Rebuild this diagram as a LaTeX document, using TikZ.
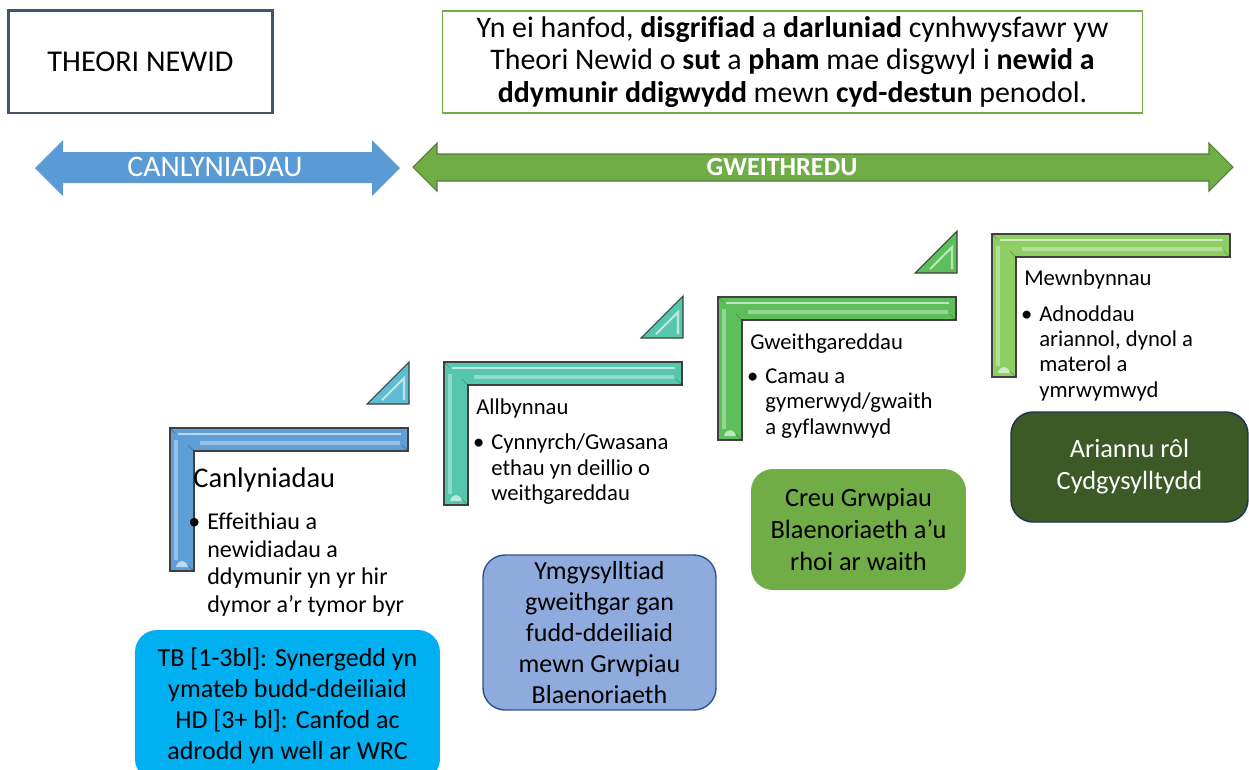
\documentclass[tikz,border=0pt]{standalone}
\usepackage{fontspec}
\setmainfont{Carlito}[Ligatures=NoCommon]
\usepackage{tikz}

\definecolor{slate}{HTML}{44546A}
\definecolor{leaf}{HTML}{70AD47}
\definecolor{leafdark}{HTML}{507E32}
\definecolor{sky}{HTML}{5B9BD5}
\definecolor{cyanbox}{HTML}{00B0F0}
\definecolor{lavender}{HTML}{8FAADC}
\definecolor{navy}{HTML}{2F528F}
\definecolor{forest}{HTML}{3B5A25}
\definecolor{frblue}{HTML}{5E9FD8}
\definecolor{frteal}{HTML}{55C8AC}
\definecolor{frgreen}{HTML}{5CBF5C}
\definecolor{frlime}{HTML}{8ECF63}
\definecolor{triaqua}{HTML}{5CBCD2}

\begin{document}
\begin{tikzpicture}[x=0.02cm,y=-0.02cm]
\tikzset{tbox/.style = {draw, rectangle, align=center, inner sep=0pt}}
\tikzset{rbox/.style = {rectangle, rounded corners=0.44cm, align=center, inner sep=0pt, font=\fontsize{14.8}{17.6}\selectfont}}
\tikzset{ftitle/.style = {anchor=base west, inner sep=0pt, font=\fontsize{12.9}{14.5}\selectfont}}
\tikzset{flist/.style = {anchor=north west, inner sep=0pt, align=left, font=\fontsize{12.9}{14.46}\selectfont}}
\clip (0,0) rectangle (1249,769);
\fill[white] (0,0) rectangle (1249,769);
% heading boxes
\node[tbox, draw=slate, line width=1.7pt, minimum width=5.3cm, minimum height=2.06cm,
  font=\fontsize{17.2}{20}\selectfont] (theori) at (140.5,61.5) {THEORI NEWID};
\node[tbox, draw=leaf, line width=0.6pt, minimum width=14.02cm, minimum height=2.04cm,
  font=\fontsize{17}{18.7}\selectfont] (diffin) at (792.5,62)
  {Yn ei hanfod, \textbf{disgrifiad} a \textbf{darluniad} cynhwysfawr yw\\
   Theori Newid o \textbf{sut} a \textbf{pham} mae disgwyl i \textbf{newid a}\\
   \textbf{ddymunir ddigwydd} mewn \textbf{cyd-destun} penodol.};
% double arrows
\fill[sky] (35,168) -- (63,140) -- (63,152) -- (372,152) -- (372,140) -- (400,168)
  -- (372,196) -- (372,183) -- (63,183) -- (63,196) -- cycle;
\filldraw[fill=leaf, draw=leafdark, line width=0.6pt] (413,167) -- (437,143) -- (437,154)
  -- (1209,154) -- (1209,143) -- (1233,167) -- (1209,191) -- (1209,181) -- (437,181)
  -- (437,191) -- cycle;
\node[text=white, font=\fontsize{17}{20}\selectfont] (canl-arrow) at (215,167) {CANLYNIADAU};
\node[text=white, font=\bfseries\fontsize{14.9}{17}\selectfont] (gweith-arrow) at (782,167) {GWEITHREDU};
% frames
\foreach \fx/\fy/\fc in {170/428/frblue, 444/362/frteal, 718/297/frgreen, 992/234/frlime}{
  \filldraw[fill=\fc, draw=black!75, line width=0.6pt] (\fx,\fy) -- ++(238,0) -- ++(0,23)
    -- ({\fx+24},{\fy+23}) -- ({\fx+24},{\fy+143}) -- (\fx,{\fy+143}) -- cycle;
  \draw[white, opacity=0.6, line width=1.2pt] ({\fx+8},{\fy+6}) -- ({\fx+231},{\fy+6});
  \draw[white, opacity=0.35, line width=2.5pt] ({\fx+30},{\fy+15}) -- ({\fx+230},{\fy+15});
  \draw[white, opacity=0.35, line width=2pt] ({\fx+6},{\fy+12}) -- ({\fx+6},{\fy+132});
  \draw[black, opacity=0.25] (\fx,\fy) -- ({\fx+5},{\fy+5}) ({\fx+238},{\fy+23}) -- ({\fx+232},{\fy+17})
    ({\fx+24},{\fy+23}) -- ({\fx+18},{\fy+17}) ({\fx+24},{\fy+143}) -- ({\fx+18},{\fy+137});
  \fill[white, opacity=0.6] ({\fx+6},{\fy+139}) .. controls ({\fx+8},{\fy+131}) and ({\fx+16},{\fy+131}) .. ({\fx+18},{\fy+139}) -- cycle;
}
\foreach \tx/\ty/\tc in {170/428/triaqua, 444/362/frteal, 718/297/frgreen}{
  \filldraw[fill=\tc, draw=black!75, line width=0.6pt] ({\tx+197},{\ty-24}) -- ({\tx+239},{\ty-66})
    -- ({\tx+239},{\ty-24}) -- cycle;
  \draw[white, opacity=0.6, line width=1.2pt] ({\tx+212},{\ty-28}) -- ({\tx+234},{\ty-50}) -- ({\tx+234},{\ty-28});
}
% frame texts
\node[ftitle, font=\fontsize{16.2}{19}\selectfont] (canl-title) at (193,487) {Canlyniadau};
\node[flist, font=\fontsize{13.7}{15.9}\selectfont] (canl-list) at (207,512)
  {\llap{•\hspace{4pt}}Effeithiau a\\ newidiadau a\\ ddymunir yn yr hir\\ dymor a’r tymor byr};
\node[ftitle] (allb-title) at (476,414) {Allbynnau};
\node[flist] (allb-list) at (491,433.5)
  {\llap{•\hspace{4pt}}Cynnyrch/Gwasana\\ ethau yn deillio o\\ weithgareddau};
\node[ftitle] (gweith-title) at (750,349) {Gweithgareddau};
\node[flist] (gweith-list) at (765,368.5)
  {\llap{•\hspace{4pt}}Camau a\\ gymerwyd/gwaith\\ a gyflawnwyd};
\node[ftitle] (mewn-title) at (1024,285) {Mewnbynnau};
\node[flist] (mewn-list) at (1039,305)
  {\llap{•\hspace{4pt}}Adnoddau\\ ariannol, dynol a\\ materol a\\ ymrwymwyd};
% rounded boxes
\node[rbox, fill=cyanbox, minimum width=6.1cm, minimum height=3.02cm] (tymor) at (287.5,705.5)
  {TB [1-3bl]: Synergedd yn\\ ymateb budd-ddeiliaid\\ HD [3+ bl]: Canfod ac\\ adrodd yn well ar WRC};
\node[rbox, fill=lavender, draw=navy, line width=0.8pt, minimum width=4.66cm, minimum height=3.1cm] (ymgys) at (599.5,632.5)
  {Ymgysylltiad\\ gweithgar gan\\ fudd-ddeiliaid\\ mewn Grwpiau\\ Blaenoriaeth};
\node[rbox, fill=leaf, minimum width=4.3cm, minimum height=2.42cm, font=\fontsize{15}{18.1}\selectfont] (creu) at (858.5,529.5)
  {Creu Grwpiau\\ Blaenoriaeth a’u\\ rhoi ar waith};
\node[rbox, fill=forest, draw=navy!60!black, line width=0.8pt, text=white, minimum width=4.74cm, minimum height=2.2cm,
  font=\fontsize{15}{18.1}\selectfont] (ariannu) at (1129.5,467) {Ariannu rôl\\ Cydgysylltydd};
\end{tikzpicture}
\end{document}
